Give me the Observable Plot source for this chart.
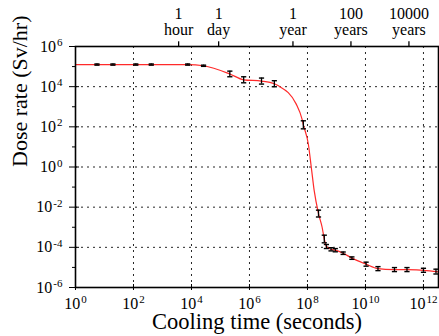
<!DOCTYPE html>
<html>
<head>
<meta charset="utf-8">
<script src="https://cdn.jsdelivr.net/npm/d3@7"></script>
<script src="https://cdn.jsdelivr.net/npm/@observablehq/plot@0.6"></script>
<style>
  html, body { margin: 0; padding: 0; background: white; }
</style>
</head>
<body>
<div id="chart"></div>
<script>
// Measured data points (cooling time in seconds, dose rate in Sv/hr, error in decades)
const times = [5.5, 19.5, 120, 410, 7400, 26000, 2.1e5, 6.3e5, 2.6e6, 7.2e6, 7.2e7, 2.4e8,
  3.8e8, 4.5e8, 6.5e8, 9.1e8, 1.7e9, 3.4e9, 1.05e10, 2.7e10, 1e11, 2.7e11, 1e12, 2.7e12];
const doses = [1.26e5, 1.26e5, 1.26e5, 1.26e5, 1.26e5, 1.1e5, 4.3e4, 2.2e4, 1.9e4, 1.4e4, 126, 4.8e-3,
  2.6e-4, 1.1e-4, 8e-5, 7.2e-5, 5.1e-5, 2.9e-5, 1.45e-5, 8.7e-6, 7.8e-6, 7.8e-6, 7.2e-6, 6.2e-6];
const errDex = [0.03, 0.03, 0.03, 0.03, 0.03, 0.03, 0.14, 0.15, 0.15, 0.15, 0.2, 0.17,
  0.19, 0.1, 0.08, 0.08, 0.06, 0.06, 0.1, 0.1, 0.1, 0.1, 0.1, 0.12];

// Red fitted curve
const fitTimes = [1, 7400, 26000, 2.1e5, 6.3e5, 2.6e6, 7.2e6, 1e7, 4.1e7, 6.5e7, 7.2e7, 1.07e8,
  1.35e8, 1.7e8, 2.4e8, 3.2e8, 3.8e8, 4.5e8, 6.5e8, 9.1e8, 1.7e9, 3.4e9, 1.05e10, 2.7e10,
  1e11, 2.7e11, 1e12, 3.3e12];
const fitDoses = [1.26e5, 1.26e5, 1.1e5, 4.3e4, 2.2e4, 1.9e4, 1.4e4, 1.1e4, 1.35e3, 240, 126, 14,
  1.0, 0.068, 4.8e-3, 1e-3, 2.6e-4, 1.1e-4, 8e-5, 7.2e-5, 5.1e-5, 2.9e-5, 1.45e-5, 8.7e-6,
  7.8e-6, 7.7e-6, 7.2e-6, 6e-6];

// Axis ticks
const xMajor = [1, 1e2, 1e4, 1e6, 1e8, 1e10, 1e12];
const yMajor = [1e-6, 1e-4, 1e-2, 1, 1e2, 1e4, 1e6];
const yMinor = [1e-5, 1e-3, 1e-1, 1e1, 1e3, 1e5];
const topTicks = [3600, 86400, 3.156e7, 3.156e9, 3.156e11];
const topLabels = ["1\nhour", "1\nday", "1\nyear", "100\nyears", "10000\nyears"];
const xTitle = "Cooling time (seconds)";
const yTitle = "Dose rate (Sv/hr)";

const points = times.map((t, i) => ({
  t, d: doses[i],
  lo: doses[i] * Math.pow(10, -errDex[i]),
  hi: doses[i] * Math.pow(10, errDex[i])
}));
const fit = fitTimes.map((t, i) => ({t, d: fitDoses[i]}));
const topData = topTicks.map((t, i) => ({t, label: topLabels[i]}));

const hline = {
  draw(context, size) {
    const r = Math.sqrt(size / Math.PI);
    context.moveTo(-r, 0);
    context.lineTo(r, 0);
  }
};
const vline = {
  draw(context, size) {
    const r = Math.sqrt(size / Math.PI);
    context.moveTo(0, -r);
    context.lineTo(0, r);
  }
};

const expFmt = d => "10^" + Math.round(Math.log10(d));

const chart = Plot.plot({
  width: 439,
  height: 336,
  marginLeft: 75,
  marginRight: 1,
  marginTop: 46,
  marginBottom: 49,
  style: {fontFamily: "Liberation Serif", fontSize: "16px", color: "black", background: "white"},
  x: {type: "log", domain: [1, 3.3e12]},
  y: {type: "log", domain: [1e-6, 1e6]},
  marks: [
    Plot.gridX(xMajor.slice(1), {stroke: "black", strokeOpacity: 0.85, strokeDasharray: "2,4"}),
    Plot.gridY(yMajor.slice(1, -1), {stroke: "black", strokeOpacity: 0.85, strokeDasharray: "2,4"}),
    Plot.line(fit, {x: "t", y: "d", stroke: "#ff2a2a", strokeWidth: 1.2, curve: "monotone-x"}),
    Plot.ruleX(points, {x: "t", y1: "lo", y2: "hi", stroke: "black", strokeWidth: 1.3}),
    Plot.dot(points, {x: "t", y: "lo", symbol: hline, r: 2.6, stroke: "black", fill: "none", strokeWidth: 1.4}),
    Plot.dot(points, {x: "t", y: "hi", symbol: hline, r: 2.6, stroke: "black", fill: "none", strokeWidth: 1.4}),
    Plot.frame({stroke: "black", strokeWidth: 1.6}),
    Plot.axisX(xMajor, {anchor: "bottom", tickSize: 6, dy: -3, tickPadding: 7, tickFormat: expFmt, label: null}),
    Plot.axisY(yMajor, {anchor: "left", tickSize: 10, dx: 4, tickPadding: 7, tickFormat: expFmt, label: null}),
    Plot.axisY(yMinor, {anchor: "left", tickSize: 3, tickFormat: () => "", label: null}),
    // top time-unit axis
    Plot.dot(topData, {x: "t", frameAnchor: "top", dy: -2.6, symbol: vline, r: 2.6, stroke: "black", fill: "none", strokeWidth: 1.3}),
    Plot.text(topData, {x: "t", text: "label", frameAnchor: "top", lineAnchor: "bottom", lineHeight: 1.0, dy: -12, fontSize: 16}),
    Plot.text([xTitle], {frameAnchor: "bottom", dy: 41, fontSize: 22.5, text: d => d}),
    Plot.text([yTitle], {frameAnchor: "left", rotate: -90, dx: -56, fontSize: 22, text: d => d})
  ]
});

// Render exponents as superscripts
d3.select(chart).selectAll("text").each(function() {
  const m = /^10\^(-?\d+)$/.exec(this.textContent);
  if (m) {
    const sel = d3.select(this);
    sel.text(null);
    sel.append("tspan").text("10");
    sel.append("tspan").attr("dx", "1").attr("dy", "-0.5em").attr("font-size", "11px").text(m[1]);
  }
});

document.getElementById("chart").appendChild(chart);
</script>
</body>
</html>
